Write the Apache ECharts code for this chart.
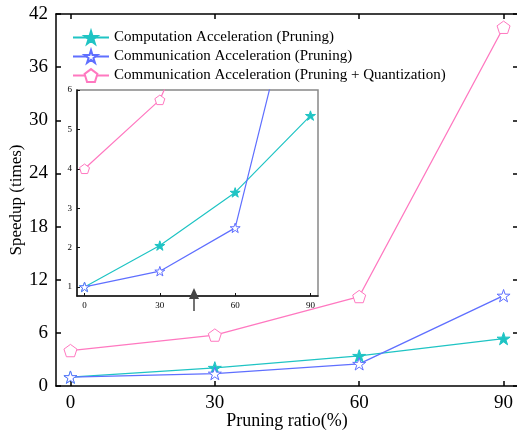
<!DOCTYPE html>
<html><head><meta charset="utf-8">
<script src="https://cdn.jsdelivr.net/npm/echarts@6/dist/echarts.min.js"></script>
<style>html,body{margin:0;padding:0;background:#fff}#c{width:517px;height:436px}</style>
</head><body><div id="c"></div>
<script>
const categories = [0, 30, 60, 90];
const xTicks = [0, 30, 60, 90];
const yTicksInset = [1, 2, 3, 4, 5, 6];
const seriesNames = ['Computation Acceleration (Pruning)', 'Communication Acceleration (Pruning)', 'Communication Acceleration (Pruning + Quantization)'];
const computePruning = [1.0, 2.05, 3.4, 5.35];
const commPruning = [1.0, 1.4, 2.5, 10.2];
const commPruningQuant = [4.0, 5.75, 10.1, 40.5];

const STAR = 'path://M50 0 L61.23 34.55 L97.55 34.55 L68.16 55.9 L79.39 90.45 L50 69.1 L20.61 90.45 L31.84 55.9 L2.45 34.55 L38.77 34.55 Z';
const PENT = 'path://M50 0 L97.55 34.55 L79.39 90.45 L20.61 90.45 L2.45 34.55 Z';
const C1 = '#1FC4C4', C2 = '#5F6FFF', C3 = '#FF78C0';
const FONT = 'Liberation Serif';

function pairs(vals){ return categories.map((c,i)=>[c, vals[i]]); }

const specs = [
  {name: seriesNames[0], data: computePruning, color: C1, symbol: STAR, fill: C1},
  {name: seriesNames[1], data: commPruning, color: C2, symbol: STAR, fill: '#fff'},
  {name: seriesNames[2], data: commPruningQuant, color: C3, symbol: PENT, fill: '#fff'}
];

const series = [];
specs.forEach(s => {
  series.push({
    name: s.name, type: 'line', xAxisIndex: 0, yAxisIndex: 0,
    data: pairs(s.data), symbol: s.symbol, symbolSize: 13, symbolKeepAspect: true,
    lineStyle: {color: s.color, width: 1.3}, itemStyle: {color: s.fill, borderColor: s.color, borderWidth: 1},
    z: 3, animation: false
  });
});
specs.forEach(s => {
  series.push({
    name: s.name, type: 'line', xAxisIndex: 2, yAxisIndex: 2,
    data: pairs(s.data), symbol: s.symbol, symbolSize: 10, symbolKeepAspect: true, clip: true,
    lineStyle: {color: s.color, width: 1.2}, itemStyle: {color: s.fill, borderColor: s.color, borderWidth: 1},
    z: 12, animation: false
  });
});

const axisTxt = {fontFamily: FONT, color: '#000'};
const chart = echarts.init(document.getElementById('c'));
chart.setOption({
  animation: false,
  backgroundColor: '#fff',
  grid: [
    {left: 56, top: 14, width: 462, height: 372, show: false, containLabel: false, outerBoundsMode: 'none'},
    {left: 77, top: 90, width: 241, height: 206, show: true, backgroundColor: '#fff', borderColor: '#888', borderWidth: 1.5, z: 10, containLabel: false, outerBoundsMode: 'none'}
  ],
  legend: {
    orient: 'vertical', left: 67, top: 25, itemWidth: 36, itemHeight: 16, itemGap: 4,
    data: seriesNames, textStyle: {fontFamily: FONT, fontSize: 15, color: '#000'}, z: 20
  },
  xAxis: [
    {type: 'value', gridIndex: 0, min: -3, max: 93, position: 'bottom',
     name: 'Pruning ratio(%)', nameLocation: 'middle', nameGap: 26, nameMoveOverlap: false,
     nameTextStyle: Object.assign({fontSize: 18}, axisTxt),
     axisLine: {onZero: false, lineStyle: {color: '#000', width: 1.5}},
     axisTick: {inside: true, length: 5, customValues: xTicks, lineStyle: {color: '#000', width: 1.5}},
     axisLabel: Object.assign({fontSize: 19, margin: 8, customValues: xTicks}, axisTxt),
     splitLine: {show: false}},
    {type: 'value', gridIndex: 0, min: -3, max: 93, position: 'top',
     axisLine: {onZero: false, lineStyle: {color: '#000', width: 1.5}},
     axisTick: {inside: true, length: 5, customValues: xTicks, lineStyle: {color: '#000', width: 1.5}},
     axisLabel: {show: false}, splitLine: {show: false}},
    {type: 'value', gridIndex: 1, min: -3, max: 93, position: 'bottom',
     axisLine: {onZero: false, lineStyle: {color: '#111', width: 1.5}},
     axisTick: {inside: true, length: 3, customValues: xTicks, lineStyle: {color: '#111'}},
     axisLabel: Object.assign({fontSize: 9, margin: 5, customValues: xTicks}, axisTxt),
     splitLine: {show: false}, z: 11}
  ],
  yAxis: [
    {type: 'value', gridIndex: 0, min: 0, max: 42, interval: 6, position: 'left',
     name: 'Speedup (times)', nameLocation: 'middle', nameGap: 31, nameMoveOverlap: false,
     nameTextStyle: Object.assign({fontSize: 17}, axisTxt),
     axisLine: {show: true, onZero: false, lineStyle: {color: '#000', width: 1.5}},
     axisTick: {show: true, inside: true, length: 5, lineStyle: {color: '#000', width: 1.5}},
     axisLabel: Object.assign({fontSize: 19, margin: 8}, axisTxt),
     splitLine: {show: false}},
    {type: 'value', gridIndex: 0, min: 0, max: 42, interval: 6, position: 'right',
     axisLine: {show: true, onZero: false, lineStyle: {color: '#000', width: 1.5}},
     axisTick: {show: true, inside: true, length: 5, lineStyle: {color: '#000', width: 1.5}},
     axisLabel: {show: false}, splitLine: {show: false}},
    {type: 'value', gridIndex: 1, min: 0.77, max: 6, position: 'left',
     axisLine: {show: true, onZero: false, lineStyle: {color: '#111', width: 1.5}},
     axisTick: {show: true, inside: true, length: 3, customValues: yTicksInset, lineStyle: {color: '#111'}},
     axisLabel: Object.assign({fontSize: 9, margin: 5, customValues: yTicksInset}, axisTxt),
     splitLine: {show: false}, z: 11}
  ],
  graphic: [
    {type: 'polygon', shape: {points: [[194, 288], [189, 299], [199, 299]]}, style: {fill: '#444'}, z: 30},
    {type: 'line', shape: {x1: 194, y1: 298, x2: 194, y2: 311}, style: {stroke: '#444', lineWidth: 1.5}, z: 30}
  ],
  series: series
});
</script>
</body></html>
